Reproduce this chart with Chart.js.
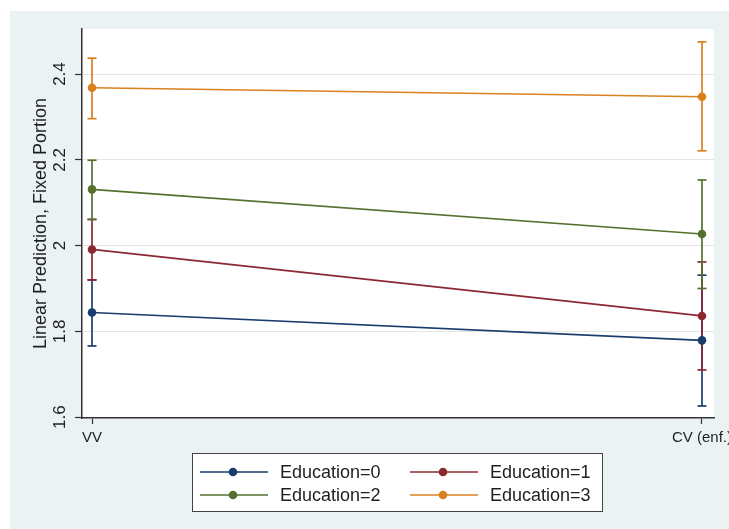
<!DOCTYPE html>
<html>
<head>
<meta charset="utf-8">
<title>Linear Prediction by Education</title>
<script src="https://cdn.jsdelivr.net/npm/chart.js@4/dist/chart.umd.min.js"></script>
<style>
  html, body { margin: 0; padding: 0; background: #ffffff; overflow: hidden; }
  #wrap { position: absolute; left: 0; top: 0; width: 740px; height: 529px; }
</style>
</head>
<body>
<div id="wrap"><canvas id="chart" width="740" height="529"></canvas></div>
<script>
// Categories on the x axis
const categories = ['VV', 'CV (enf.)'];

// Y axis ticks
const yTickValues = [1.6, 1.8, 2.0, 2.2, 2.4];
const yTickLabels = ['1.6', '1.8', '2', '2.2', '2.4'];

// Series names
const seriesNames = ['Education=0', 'Education=1', 'Education=2', 'Education=3'];

// Predicted values per category (VV, CV (enf.))
const edu0 = [1.844, 1.779];
const edu1 = [1.991, 1.836];
const edu2 = [2.131, 2.027];
const edu3 = [2.368, 2.347];

// Confidence interval bounds
const edu0Low = [1.766, 1.626];
const edu0High = [1.920, 1.931];
const edu1Low = [1.920, 1.710];
const edu1High = [2.061, 1.962];
const edu2Low = [2.061, 1.900];
const edu2High = [2.199, 2.153];
const edu3Low = [2.296, 2.221];
const edu3High = [2.437, 2.475];

const colors = ['rgb(26,60,110)', 'rgb(140,40,50)', 'rgb(85,112,47)', 'rgb(218,128,30)'];
const FONT = '"Liberation Sans", Arial, sans-serif';
const TEXT = '#1e1e1e';

const means = [edu0, edu1, edu2, edu3];
const lows = [edu0Low, edu1Low, edu2Low, edu3Low];
const highs = [edu0High, edu1High, edu2High, edu3High];

const datasets = [];

// Connected estimate lines (drawn on top)
for (let s = means.length - 1; s >= 0; s--) {
  datasets.push({
    label: seriesNames[s],
    data: means[s].map((v, i) => ({ x: i, y: v })),
    borderColor: colors[s],
    backgroundColor: colors[s],
    borderWidth: 1.7,
    pointRadius: 4.3,
    pointHoverRadius: 4.3,
    pointBorderWidth: 0,
    pointStyle: 'circle',
    showLine: true,
    tension: 0
  });
}

// Capped confidence intervals
for (let s = means.length - 1; s >= 0; s--) {
  for (let i = 0; i < categories.length; i++) {
    datasets.push({
      label: seriesNames[s] + ' CI',
      data: [{ x: i, y: lows[s][i] }, { x: i, y: highs[s][i] }],
      borderColor: colors[s],
      backgroundColor: colors[s],
      borderWidth: 1.7,
      pointStyle: 'line',
      pointRadius: 4.5,
      pointHoverRadius: 4.5,
      pointBorderWidth: 1.7,
      showLine: true
    });
  }
}

// Page background, outer panel and white plot region
const backgroundPlugin = {
  id: 'panels',
  beforeDraw(chart) {
    const { ctx, chartArea } = chart;
    ctx.save();
    ctx.fillStyle = '#ffffff';
    ctx.fillRect(0, 0, chart.width, chart.height);
    ctx.fillStyle = 'rgb(234,242,243)';
    ctx.fillRect(10, 11, chart.width - 10, chart.height - 11);
    ctx.fillStyle = '#ffffff';
    ctx.fillRect(chartArea.left, chartArea.top, chartArea.right - chartArea.left, chartArea.bottom - chartArea.top);
    ctx.restore();
  }
};

// Boxed legend below the plot, two columns
const legendPlugin = {
  id: 'boxLegend',
  afterDraw(chart) {
    const { ctx } = chart;
    ctx.save();
    ctx.fillStyle = '#ffffff';
    ctx.fillRect(192.5, 453.5, 410, 58);
    ctx.strokeStyle = '#444444';
    ctx.lineWidth = 1;
    ctx.strokeRect(192.5, 453.5, 410, 58);
    const colX = [200, 410];
    const rowY = [472, 495];
    ctx.font = '18px ' + FONT;
    ctx.textBaseline = 'middle';
    ctx.textAlign = 'left';
    seriesNames.forEach((name, k) => {
      const cx = colX[k % 2];
      const cy = rowY[Math.floor(k / 2)];
      ctx.strokeStyle = colors[k];
      ctx.lineWidth = 1.7;
      ctx.beginPath();
      ctx.moveTo(cx, cy);
      ctx.lineTo(cx + 68, cy);
      ctx.stroke();
      ctx.fillStyle = colors[k];
      ctx.beginPath();
      ctx.arc(cx + 33, cy, 4.3, 0, Math.PI * 2);
      ctx.fill();
      ctx.fillStyle = TEXT;
      ctx.fillText(name, cx + 80, cy + 1);
    });
    ctx.restore();
  }
};

new Chart(document.getElementById('chart'), {
  type: 'scatter',
  data: { datasets },
  plugins: [backgroundPlugin, legendPlugin],
  options: {
    responsive: false,
    animation: false,
    devicePixelRatio: 1,
    layout: { padding: { left: 10, top: 29, right: 26, bottom: 81 } },
    plugins: {
      legend: { display: false },
      tooltip: { enabled: false }
    },
    scales: {
      x: {
        type: 'linear',
        min: -0.0164,
        max: 1.0197,
        afterBuildTicks(scale) {
          scale.ticks = categories.map((c, i) => ({ value: i }));
        },
        afterFit(scale) { scale.height = 30; },
        grid: {
          drawOnChartArea: false,
          drawTicks: true,
          tickLength: 6,
          tickColor: '#333333',
          tickWidth: 1.2
        },
        border: { display: true, color: '#333333', width: 1.5 },
        ticks: {
          color: TEXT,
          font: { family: FONT, size: 15 },
          padding: 5,
          maxRotation: 0,
          minRotation: 0,
          autoSkip: false,
          callback: (v) => categories[v]
        }
      },
      y: {
        type: 'linear',
        min: 1.598,
        max: 2.505,
        afterBuildTicks(scale) {
          scale.ticks = yTickValues.map(v => ({ value: v }));
        },
        afterFit(scale) { scale.width = 72; },
        grid: {
          color: 'rgb(228,228,228)',
          lineWidth: 1,
          drawTicks: true,
          tickLength: 7,
          tickColor: '#333333',
          tickWidth: 1.2
        },
        border: { display: true, color: '#333333', width: 1.5 },
        ticks: {
          color: TEXT,
          font: { family: FONT, size: 17 },
          padding: 3,
          minRotation: 90,
          maxRotation: 90,
          crossAlign: 'center',
          autoSkip: false,
          callback: (v) => yTickLabels[yTickValues.indexOf(v)]
        },
        title: {
          display: true,
          text: 'Linear Prediction, Fixed Portion',
          color: TEXT,
          font: { family: FONT, size: 18 },
          padding: { top: 20, bottom: 0 }
        }
      }
    }
  }
});
</script>
</body>
</html>
